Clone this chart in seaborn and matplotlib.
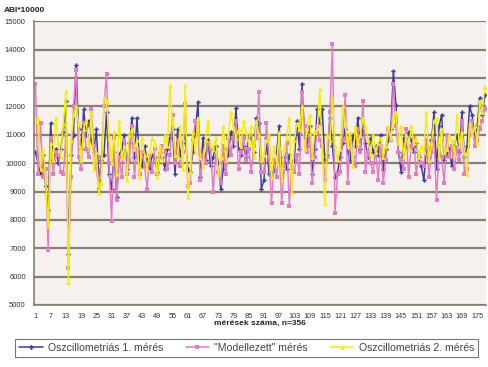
import numpy as np
import pandas as pd
import matplotlib
matplotlib.use("Agg")
import matplotlib.pyplot as plt
import seaborn as sns
from matplotlib.ticker import FixedLocator
from matplotlib.lines import Line2D

series_names = ["Oszcillometriás 1. mérés", "\"Modellezett\" mérés", "Oszcillometriás 2. mérés"]

blue = [
    10400, 10000, 9600, 10300, 9200, 8350, 11400, 10100, 10500, 10000,
    10500, 11100, 12200, 6800, 10300, 11000, 13450, 11200, 10500, 11900,
    11000, 11500, 10800, 10400, 11200, 9400, 10100, 10300, 11800, 9600,
    9100, 10400, 8800, 10300, 10500, 11000, 9800, 10700, 11600, 10200,
    11600, 10000, 9900, 10600, 10100, 9800, 10300, 10200, 9700, 10400,
    10200, 9800, 10500, 10900, 11200, 9600, 11200, 10300, 10700, 11000,
    9800, 9700, 10400, 11100, 12150, 9500, 10900, 10100, 10800, 9900,
    10200, 10600, 10000, 9100, 9800, 10500, 10300, 11100, 10600, 11950,
    10500, 10300, 10600, 10200, 10900, 11000, 10400, 11600, 11400, 9100,
    9400, 10900, 9600, 9700, 9800, 10400, 11300, 9700, 10200, 9800,
    10300, 9800, 10100, 11500, 10500, 12800, 10900, 10600, 11300, 9600,
    10500, 11900, 11400, 11900, 10100, 10300, 11600, 10600, 9500, 9700,
    10200, 10700, 11200, 10400, 10100, 11000, 10600, 11600, 10500, 11300,
    10700, 10200, 10900, 10400, 10600, 10300, 11000, 9800, 10500, 10800,
    11200, 13250, 12050, 10400, 9700, 10900, 10600, 11100, 10800, 10400,
    10700, 10200, 9900, 9400, 10500, 10200, 10800, 11800, 9800, 11300,
    11700, 10100, 10300, 10500, 9900, 10600, 11000, 10400, 11800, 10200,
    10600, 12000, 11700, 10900, 11300, 12300, 11700, 12400,
]
pink = [
    12800, 9600, 11400, 9500, 9800, 6950, 10900, 9600, 10400, 10300,
    9700, 9600, 11000, 6300, 9500, 12000, 13300, 10200, 9800, 11400,
    10500, 10200, 11900, 10600, 9800, 9100, 10200, 12000, 13150, 10000,
    7950, 10900, 8700, 10200, 9500, 10800, 9600, 10100, 11300, 9500,
    10500, 9600, 10400, 9900, 9100, 10300, 9700, 10500, 9600, 10200,
    10600, 10400, 9800, 10300, 11700, 10000, 10800, 9900, 10400, 12100,
    9200, 9300, 10800, 11500, 11300, 9400, 10300, 10000, 10700, 10500,
    9000, 10300, 9700, 9300, 10600, 9600, 10900, 10300, 10900, 11500,
    9800, 10400, 10900, 10100, 10500, 9700, 10600, 10900, 12500, 9700,
    9700, 11400, 10200, 8600, 10100, 9500, 10500, 8600, 9900, 10700,
    8500, 10000, 9700, 10300, 9600, 12500, 11300, 10400, 11000, 9300,
    10200, 11300, 10800, 10600, 9400, 10200, 11800, 14200, 8250, 9600,
    9700, 10800, 12400, 9300, 10900, 10200, 9900, 11200, 10400, 12200,
    9700, 10400, 10000, 9700, 10500, 9400, 10600, 9300, 10100, 11200,
    10800, 12800, 11300, 10400, 10100, 9800, 11200, 9500, 10600, 10900,
    9600, 10300, 10000, 9900, 10800, 9500, 10400, 10900, 8700, 10600,
    10200, 9300, 11000, 10200, 10600, 9800, 10500, 10100, 11500, 9600,
    9800, 11000, 11500, 10600, 10800, 11200, 11500, 11900,
]
yellow = [
    11500, 11600, 9800, 10500, 9400, 7800, 10700, 10100, 11600, 10700,
    10200, 11400, 12550, 5800, 10800, 11700, 12000, 11400, 10100, 11200,
    11500, 10600, 11800, 9800, 10400, 8950, 9300, 12300, 12200, 10900,
    10000, 11100, 9600, 11500, 10200, 10600, 9400, 11000, 11200, 10500,
    10800, 9500, 10900, 10300, 9800, 10400, 10900, 10700, 9500, 10600,
    10100, 11000, 10600, 12750, 11400, 10300, 10200, 11300, 9800, 12750,
    8800, 9700, 11100, 10400, 11600, 10200, 9900, 10800, 11500, 10600,
    10500, 10900, 9600, 10200, 11300, 10100, 11000, 11800, 11300, 10900,
    11200, 10600, 11500, 11100, 10700, 11300, 10200, 11500, 11000, 10100,
    10300, 10800, 11000, 9500, 10600, 10000, 11100, 9400, 10500, 10900,
    11600, 9000, 10800, 11400, 11200, 12000, 10500, 11200, 11700, 10200,
    11100, 11200, 12600, 10300, 8600, 11000, 10800, 12300, 10600, 10100,
    10500, 12000, 11400, 10600, 11100, 9900, 11300, 10700, 11000, 11600,
    11300, 10800, 10300, 11000, 10400, 10700, 10900, 10200, 10600, 11300,
    10900, 11600, 11800, 10700, 11300, 10200, 11000, 10500, 11300, 10700,
    10900, 10200, 10600, 10400, 11800, 10100, 10700, 11500, 11600, 10200,
    11200, 10400, 10500, 11000, 10800, 10300, 11700, 10600, 11100, 10400,
    9600, 11400, 11000, 11300, 10700, 12200, 11800, 12700,
]
x_ticks = list(range(1, 176, 6))
y_ticks = list(range(5000, 15001, 1000))

n = len(blue)
idx = np.arange(1, n + 1)
df = pd.DataFrame({
    "idx": np.concatenate([idx, idx, idx]),
    "value": np.concatenate([blue, pink, yellow]),
    "series": [series_names[0]] * n + [series_names[1]] * n + [series_names[2]] * n,
})

sns.set_style("white")
plt.rcParams["font.family"] = ["Liberation Sans", "DejaVu Sans"]

fig = plt.figure(figsize=(4.88, 3.67), dpi=100)
ax = fig.add_axes([0.070, 0.169, 0.926, 0.773])
ax.set_facecolor("#f4f1ee")

palette = {series_names[0]: "#3b3b9e", series_names[1]: "#e67ac4", series_names[2]: "#f4f000"}
markers = {series_names[0]: "P", series_names[1]: "s", series_names[2]: "^"}

sns.lineplot(data=df, x="idx", y="value", hue="series", style="series",
             hue_order=series_names, style_order=series_names,
             palette=palette, markers=markers, dashes=False, sort=False,
             linewidth=1.05, markersize=3.2, markeredgewidth=0, ax=ax, legend=False)

ax.set_xlim(0.5, n + 0.5)
ax.set_ylim(5000, 15000)
ax.set_yticks(y_ticks)
ax.set_yticklabels([str(v) for v in y_ticks], fontsize=5.5, color="#333333")
ax.set_xticks(x_ticks)
ax.set_xticklabels([str(v) for v in x_ticks], fontsize=5.2, color="#333333")
ax.xaxis.set_minor_locator(FixedLocator(np.arange(0.5, n + 1, 1)))
ax.tick_params(axis="x", which="major", length=0, pad=6)
ax.tick_params(axis="x", which="minor", length=3, width=0.6, color="#8a7f70", direction="inout")
ax.tick_params(axis="y", which="major", length=3, width=0.8, color="#8a7f70", pad=3)
ax.yaxis.grid(True, color="#8a7f6e", linewidth=1.6)
ax.set_axisbelow(True)
for s in ["top", "right"]:
    ax.spines[s].set_visible(False)
for s in ["left", "bottom"]:
    ax.spines[s].set_color("#8a7f70")
    ax.spines[s].set_linewidth(1.2)

ax.set_xlabel("mérések száma, n=356", fontsize=6, fontweight="bold", labelpad=0)
ax.set_ylabel("")
fig.text(0.008, 0.968, "ABI*10000", fontsize=6, fontweight="bold", color="#222222")

handles = [Line2D([0], [0], color=palette[s], marker=markers[s], markersize=3.5,
                  markeredgewidth=0, linewidth=1.1) for s in series_names]
leg = fig.legend(handles, series_names, loc="lower left",
                 bbox_to_anchor=(0.031, 0.027, 0.949, 0.065), mode="expand", ncol=3,
                 fontsize=7.6, frameon=True, fancybox=False, handlelength=2.2,
                 borderaxespad=0, handletextpad=0.5)
leg.get_frame().set_edgecolor("#555555")
leg.get_frame().set_linewidth(0.8)
for t in leg.get_texts():
    t.set_color("#444444")

fig.savefig("out.png", dpi=100, facecolor="white")
